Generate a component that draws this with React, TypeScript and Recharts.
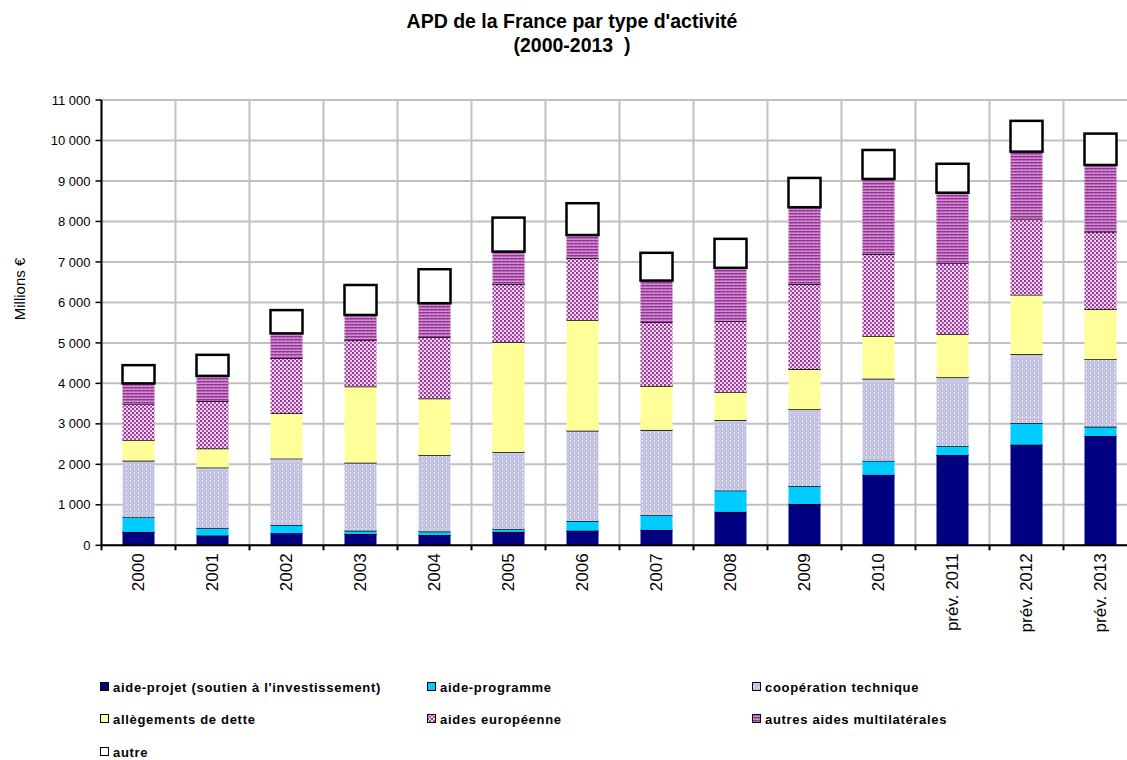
import React from "react";
import { BarChart, Bar, XAxis, YAxis, CartesianGrid, Legend } from "recharts";

const years = ["2000", "2001", "2002", "2003", "2004", "2005", "2006", "2007", "2008", "2009", "2010", "prév. 2011", "prév. 2012", "prév. 2013"];
const aideProjet = [330, 240, 300, 280, 255, 330, 360, 380, 825, 1020, 1740, 2230, 2485, 2700];
const aideProgramme = [360, 180, 200, 80, 85, 65, 240, 360, 525, 445, 345, 220, 530, 230];
const cooperation = [1400, 1500, 1640, 1680, 1885, 1910, 2230, 2110, 1745, 1895, 2030, 1700, 1705, 1665];
const allegements = [510, 470, 1120, 1880, 1400, 2710, 2735, 1085, 690, 990, 1055, 1060, 1465, 1235];
const europeenne = [880, 1170, 1360, 1150, 1515, 1440, 1525, 1575, 1755, 2100, 2020, 1755, 1880, 1915];
const multilaterales = [520, 625, 615, 620, 840, 800, 575, 1030, 1315, 1900, 1860, 1745, 1660, 1650];
const autre = [450, 520, 575, 740, 840, 840, 785, 685, 715, 725, 715, 715, 760, 775];
const yTicks = [0, 1000, 2000, 3000, 4000, 5000, 6000, 7000, 8000, 9000, 10000, 11000];

const FONT = '"Liberation Sans", Arial, sans-serif';

const series = [
  { key: "projet", name: "aide-projet (soutien à l'investissement)", fill: "#000080", values: aideProjet },
  { key: "programme", name: "aide-programme", fill: "#00CCFF", values: aideProgramme },
  { key: "coop", name: "coopération technique", fill: "url(#pCoop)", values: cooperation },
  { key: "allege", name: "allègements de dette", fill: "#FFFF99", values: allegements },
  { key: "europ", name: "aides européenne", fill: "url(#pEurop)", values: europeenne },
  { key: "multi", name: "autres aides multilatérales", fill: "url(#pMulti)", values: multilaterales },
  { key: "autre", name: "autre", fill: "#FFFFFF", values: autre },
];

const data = years.map((y, i) => {
  const row: any = { year: y };
  series.forEach((s) => (row[s.key] = s.values[i]));
  return row;
});

const fmt = (v: number) => {
  const s = String(v);
  return s.length > 3 ? s.slice(0, s.length - 3) + "\u00a0" + s.slice(s.length - 3) : s;
};

const makeShape = (fill: string, isAutre: boolean) => (props: any) => {
  const { x, y, width, height } = props;
  if (!height || height <= 0) return <g />;
  if (isAutre) {
    return <rect x={x} y={y} width={width} height={height} fill="#fff" stroke="#000" strokeWidth={2.5} />;
  }
  return (
    <g>
      <rect x={x} y={y} width={width} height={height} fill={fill} />
      <line x1={x} x2={x + width} y1={y} y2={y} stroke="#000" strokeWidth={1.4} />
    </g>
  );
};

const XTick = (props: any) => {
  const { x, y, payload, width, visibleTicksCount, index } = props;
  const count = visibleTicksCount || years.length;
  const band = width ? width / count : 74;
  const half = band / 2;
  return (
    <g>
      <line x1={x - half} x2={x - half} y1={y} y2={y + 5} stroke="#000" strokeWidth={2} />
      {index === count - 1 ? (
        <line x1={x + half} x2={x + half} y1={y} y2={y + 5} stroke="#000" strokeWidth={2} />
      ) : null}
      <text
        transform={`translate(${x},${y + 8}) rotate(-90)`}
        textAnchor="end"
        dominantBaseline="central"
        fontSize={17}
        fontFamily={FONT}
        fill="#000"
      >
        {payload.value}
      </text>
    </g>
  );
};

const legendCols = [100, 427, 752];
const legendRows = [687, 719, 752];

const LegendContent = () => (
  <div style={{ position: "relative", width: 1127, height: 760 }}>
    {series.map((s, i) => {
      const col = i % 3;
      const row = Math.floor(i / 3);
      return (
        <div
          key={s.key}
          style={{
            position: "absolute",
            left: legendCols[col],
            top: legendRows[row] - 9,
            height: 18,
            display: "flex",
            alignItems: "center",
            whiteSpace: "nowrap",
          }}
        >
          <svg width={10} height={10} style={{ marginRight: 3 }}>
            <rect x={0.5} y={0.5} width={8} height={8} fill={s.fill} stroke="#000" strokeWidth={1} />
          </svg>
          <span style={{ fontFamily: FONT, fontSize: 13, fontWeight: "bold", letterSpacing: 0.7, color: "#000" }}>
            {s.name}
          </span>
        </div>
      );
    })}
  </div>
);

export default function App() {
  return (
    <div style={{ position: "fixed", left: 0, top: 0, width: 1127, height: 760, overflow: "hidden", background: "#fff" }}>
      <svg width={0} height={0} style={{ position: "absolute" }}>
        <defs>
          <pattern id="pCoop" patternUnits="userSpaceOnUse" width={4} height={4}>
            <rect x={0} y={0} width={4} height={4} fill="#C0C0E0" />
            <rect x={2} y={0} width={1} height={2} fill="#ECECF8" />
            <rect x={0} y={2} width={1} height={1} fill="#D6D6EC" />
          </pattern>
          <pattern id="pEurop" patternUnits="userSpaceOnUse" width={4} height={4}>
            <rect x={0} y={0} width={4} height={4} fill="#EBD2EB" />
            <rect x={0} y={0} width={2} height={2} fill="#993399" />
            <rect x={2} y={2} width={2} height={2} fill="#A855A8" />
          </pattern>
          <pattern id="pMulti" patternUnits="userSpaceOnUse" width={4} height={3}>
            <rect x={0} y={0} width={4} height={3} fill="#AD5CAD" />
            <rect x={0} y={0} width={4} height={1} fill="#993399" />
            <rect x={0} y={2} width={4} height={1} fill="#CC8ECC" />
            <rect x={1} y={1} width={1} height={1} fill="#C488C4" />
          </pattern>
        </defs>
      </svg>
      <div
        style={{
          position: "absolute",
          left: 272,
          width: 600,
          top: 9,
          textAlign: "center",
          fontFamily: FONT,
          fontWeight: "bold",
          fontSize: 19.5,
          lineHeight: "24px",
          color: "#000",
        }}
      >
        <div>APD de la France par type d'activité</div>
        <div>(2000-2013&nbsp; )</div>
      </div>
      <BarChart
        width={1160}
        height={760}
        data={data}
        margin={{ top: 100, right: 22.5, bottom: 0, left: 0 }}
        barSize={32}
      >
        <CartesianGrid
          stroke="#C0C0C0"
          strokeWidth={2}
          verticalCoordinatesGenerator={(p: any) => {
            const o = p.offset || { left: 101.5, width: 1036 };
            const arr: number[] = [];
            for (let i = 0; i <= years.length; i++) arr.push(o.left + (i * o.width) / years.length);
            return arr;
          }}
        />
        <XAxis
          dataKey="year"
          interval={0}
          height={214.7}
          tickSize={0}
          tickMargin={0}
          tickLine={false}
          tick={<XTick />}
          axisLine={{ stroke: "#000", strokeWidth: 2 }}
        />
        <YAxis
          domain={[0, 11000]}
          ticks={yTicks}
          interval={0}
          width={101.5}
          tickFormatter={fmt}
          tick={{ fill: "#000", fontSize: 13, fontFamily: FONT }}
          axisLine={{ stroke: "#000", strokeWidth: 2 }}
          tickLine={{ stroke: "#000", strokeWidth: 1.5 }}
          tickSize={6}
          tickMargin={5}
          label={{
            content: () => (
              <text
                transform="translate(19,289) rotate(-90)"
                textAnchor="middle"
                dominantBaseline="central"
                fontSize={15}
                fontFamily={FONT}
                fill="#000"
              >
                Millions €
              </text>
            ),
          }}
        />
        {series.map((s) => (
          <Bar
            key={s.key}
            dataKey={s.key}
            name={s.name}
            stackId="a"
            fill={s.fill}
            isAnimationActive={false}
            shape={makeShape(s.fill, s.key === "autre")}
          />
        ))}
        <Legend
          layout="horizontal"
          verticalAlign="middle"
          align="center"
          wrapperStyle={{ left: 0, top: 0, width: 1127, height: 760, pointerEvents: "none" }}
          content={<LegendContent />}
        />
      </BarChart>
    </div>
  );
}
